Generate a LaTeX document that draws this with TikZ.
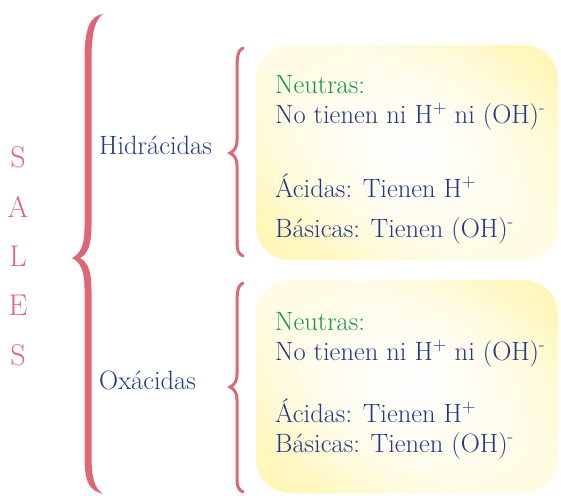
\documentclass[tikz,border=0pt]{standalone}
\usepackage{tikz}
\usepackage{xcolor}
\usetikzlibrary{fadings}

\definecolor{rosa}{HTML}{DE6776}
\definecolor{azul}{HTML}{22388A}
\definecolor{verde}{HTML}{13974A}
\definecolor{amarillo}{HTML}{FFF4A2}

\pgfdeclareverticalshading{fondocaja}{100bp}{color(0bp)=(amarillo); color(22bp)=(amarillo!70);
  color(42bp)=(amarillo!30); color(58bp)=(amarillo!30); color(78bp)=(amarillo!70); color(100bp)=(amarillo)}
\tikzfading[name=centro, inner color=transparent!0, outer color=transparent!100]

\tikzset{
  caja/.style={rounded corners=34pt, shading=fondocaja, shading angle=-45},
  brillo/.style={fill=white, path fading=centro},
  txt/.style={anchor=base west, inner sep=0pt, text=azul, font=\fontsize{26.5}{30}\selectfont},
  neutra/.style={txt, text=verde},
  letra/.style={anchor=base, inner sep=0pt, text=rosa, font=\fontsize{30}{32}\selectfont},
  llave/.style={draw=rosa, line width=3pt, line cap=round}
}

\begin{document}
\begin{tikzpicture}[x=1pt, y=-1pt]
\useasboundingbox (0,0) rectangle (561,495);
% cajas
\shade[caja] (256,45) rectangle (558,260);
\fill[brillo] (412,150) ellipse (170pt and 125pt);
\shade[caja] (256,280) rectangle (558,493);
\fill[brillo] (412,385) ellipse (170pt and 125pt);
% SALES
\node[letra] (s1) at (18,167) {S};
\node[letra] (a) at (18,217) {A};
\node[letra] (l) at (18,266) {L};
\node[letra] (e) at (18,315) {E};
\node[letra] (s2) at (18,365) {S};
% llave grande
\fill[rosa] (103,14) .. controls (90,16) and (84.5,28) .. (84.5,60) -- (84.5,228)
  .. controls (84.5,246) and (80,254) .. (72,258)
  .. controls (80,262) and (84.5,270) .. (84.5,288) -- (84.5,455)
  .. controls (84.5,485) and (90,490) .. (103,494)
  .. controls (95,488) and (91.5,480) .. (91.5,455) -- (91.5,290)
  .. controls (91.5,272) and (88,262) .. (80,258)
  .. controls (88,254) and (91.5,244) .. (91.5,226) -- (91.5,60)
  .. controls (91.5,32) and (95,20) .. (103,14) -- cycle;
% llaves chicas
\draw[llave] (243,48) .. controls (238,50) and (237,56) .. (237,70) -- (237,140)
  .. controls (237,148) and (234,151) .. (230,153)
  .. controls (234,155) and (237,158) .. (237,166) -- (237,240)
  .. controls (237,250) and (238,254) .. (243,256);
\draw[llave] (243,283) .. controls (238,285) and (237,291) .. (237,305) -- (237,374)
  .. controls (237,382) and (234,385) .. (230,387)
  .. controls (234,389) and (237,392) .. (237,400) -- (237,476)
  .. controls (237,486) and (238,490) .. (243,492);
% grupos
\node[txt] (hidr) at (99,154) {Hidrácidas};
\node[txt] (oxa) at (99,389) {Oxácidas};
% caja 1
\node[neutra] (n1) at (275,93) {Neutras:};
\node[txt] (nt1) at (275,123) {No tienen ni H\textsuperscript{+} ni (OH)\textsuperscript{-}};
\node[txt] (ac1) at (275,197) {Ácidas: Tienen H\textsuperscript{+}};
\node[txt] (ba1) at (275,237) {Básicas: Tienen (OH)\textsuperscript{-}};
% caja 2
\node[neutra] (n2) at (275,330) {Neutras:};
\node[txt] (nt2) at (275,360) {No tienen ni H\textsuperscript{+} ni (OH)\textsuperscript{-}};
\node[txt] (ac2) at (275,422) {Ácidas: Tienen H\textsuperscript{+}};
\node[txt] (ba2) at (275,452) {Básicas: Tienen (OH)\textsuperscript{-}};
\end{tikzpicture}
\end{document}
